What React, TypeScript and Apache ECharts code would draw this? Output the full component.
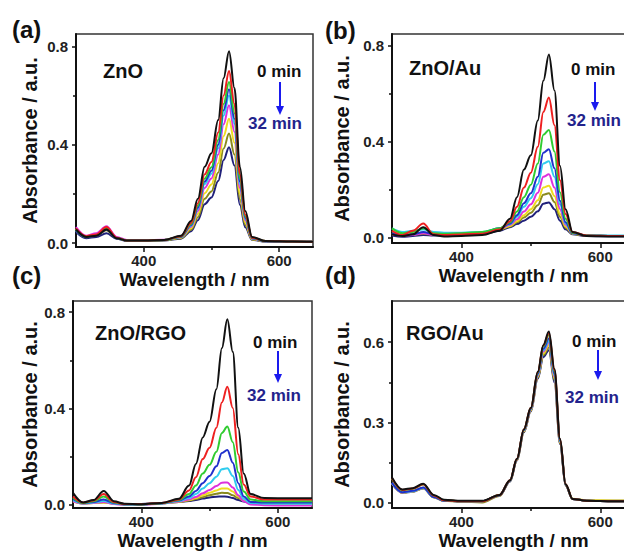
import React, { useEffect, useRef } from "react";
import * as echarts from "echarts";

// ---------- data ----------
const WAVELENGTH_NM = [300, 315, 330, 345, 360, 375, 400, 430, 455, 470, 480, 490, 500, 510, 518, 526, 534, 542, 550, 560, 580, 620, 650];
const TIME_MIN = [0, 4, 8, 12, 16, 20, 24, 28, 32];

// (a) ZnO, one row per irradiation time (0 → 32 min)
const ZNO_ABS = [
  [0.055, 0.025, 0.030, 0.055, 0.020, 0.010, 0.010, 0.012, 0.030, 0.090, 0.180, 0.310, 0.365, 0.500, 0.670, 0.780, 0.630, 0.310, 0.130, 0.025, 0.008, 0.006, 0.005],
  [0.060, 0.028, 0.035, 0.065, 0.022, 0.010, 0.010, 0.012, 0.028, 0.082, 0.162, 0.280, 0.330, 0.450, 0.600, 0.700, 0.565, 0.280, 0.115, 0.022, 0.008, 0.006, 0.005],
  [0.055, 0.026, 0.033, 0.060, 0.021, 0.010, 0.010, 0.012, 0.027, 0.077, 0.152, 0.262, 0.308, 0.420, 0.565, 0.655, 0.528, 0.262, 0.108, 0.021, 0.008, 0.006, 0.005],
  [0.050, 0.024, 0.030, 0.055, 0.020, 0.010, 0.010, 0.012, 0.026, 0.073, 0.145, 0.250, 0.294, 0.400, 0.540, 0.625, 0.505, 0.250, 0.103, 0.020, 0.007, 0.006, 0.005],
  [0.052, 0.025, 0.032, 0.058, 0.021, 0.010, 0.010, 0.012, 0.025, 0.070, 0.140, 0.240, 0.282, 0.385, 0.518, 0.600, 0.485, 0.240, 0.099, 0.019, 0.007, 0.006, 0.005],
  [0.065, 0.030, 0.040, 0.068, 0.025, 0.012, 0.012, 0.013, 0.024, 0.066, 0.130, 0.224, 0.263, 0.360, 0.483, 0.560, 0.452, 0.224, 0.092, 0.018, 0.007, 0.006, 0.005],
  [0.058, 0.027, 0.036, 0.062, 0.023, 0.011, 0.011, 0.012, 0.022, 0.060, 0.118, 0.203, 0.238, 0.325, 0.435, 0.505, 0.408, 0.202, 0.083, 0.016, 0.007, 0.006, 0.005],
  [0.050, 0.024, 0.030, 0.052, 0.020, 0.010, 0.010, 0.011, 0.020, 0.054, 0.105, 0.180, 0.210, 0.287, 0.384, 0.445, 0.360, 0.178, 0.073, 0.015, 0.006, 0.005, 0.005],
  [0.045, 0.020, 0.025, 0.040, 0.018, 0.008, 0.008, 0.010, 0.018, 0.048, 0.093, 0.158, 0.185, 0.252, 0.338, 0.390, 0.315, 0.156, 0.064, 0.013, 0.006, 0.005, 0.005],
];

// (b) ZnO/Au
const ZNO_AU_ABS = [
  [0.015, 0.008, 0.015, 0.045, 0.012, 0.006, 0.008, 0.012, 0.030, 0.080, 0.170, 0.285, 0.345, 0.490, 0.655, 0.765, 0.615, 0.300, 0.120, 0.025, 0.008, 0.006, 0.005],
  [0.030, 0.012, 0.030, 0.060, 0.015, 0.012, 0.014, 0.018, 0.035, 0.070, 0.130, 0.210, 0.272, 0.380, 0.525, 0.585, 0.470, 0.240, 0.100, 0.025, 0.010, 0.008, 0.008],
  [0.040, 0.020, 0.025, 0.040, 0.020, 0.018, 0.020, 0.025, 0.040, 0.065, 0.110, 0.170, 0.222, 0.310, 0.430, 0.450, 0.360, 0.190, 0.080, 0.022, 0.010, 0.008, 0.008],
  [0.020, 0.012, 0.015, 0.025, 0.015, 0.015, 0.018, 0.022, 0.040, 0.060, 0.095, 0.145, 0.186, 0.255, 0.355, 0.370, 0.290, 0.155, 0.065, 0.020, 0.010, 0.008, 0.008],
  [0.040, 0.025, 0.030, 0.035, 0.025, 0.022, 0.022, 0.025, 0.040, 0.058, 0.088, 0.130, 0.166, 0.224, 0.310, 0.320, 0.255, 0.140, 0.060, 0.020, 0.012, 0.010, 0.010],
  [0.015, 0.010, 0.012, 0.020, 0.012, 0.012, 0.015, 0.020, 0.038, 0.055, 0.078, 0.110, 0.140, 0.188, 0.255, 0.265, 0.210, 0.120, 0.055, 0.020, 0.010, 0.008, 0.008],
  [0.020, 0.012, 0.015, 0.022, 0.015, 0.014, 0.016, 0.020, 0.036, 0.050, 0.070, 0.095, 0.120, 0.157, 0.210, 0.218, 0.175, 0.100, 0.048, 0.018, 0.010, 0.008, 0.008],
  [0.015, 0.010, 0.012, 0.018, 0.012, 0.012, 0.014, 0.018, 0.035, 0.048, 0.065, 0.085, 0.105, 0.136, 0.180, 0.186, 0.150, 0.088, 0.043, 0.017, 0.009, 0.008, 0.008],
  [0.010, 0.005, 0.008, 0.012, 0.010, 0.010, 0.012, 0.016, 0.030, 0.045, 0.058, 0.072, 0.088, 0.111, 0.143, 0.148, 0.120, 0.072, 0.036, 0.015, 0.008, 0.007, 0.007],
];

// (c) ZnO/RGO
const ZNO_RGO_ABS = [
  [0.050, 0.010, 0.020, 0.058, 0.015, 0.005, 0.003, 0.008, 0.025, 0.080, 0.170, 0.280, 0.345, 0.480, 0.650, 0.770, 0.635, 0.320, 0.130, 0.045, 0.028, 0.027, 0.027],
  [0.035, 0.010, 0.018, 0.045, 0.012, 0.004, 0.003, 0.008, 0.022, 0.060, 0.115, 0.190, 0.237, 0.320, 0.425, 0.490, 0.402, 0.210, 0.085, 0.035, 0.022, 0.022, 0.022],
  [0.030, 0.008, 0.015, 0.035, 0.010, 0.003, 0.002, 0.007, 0.020, 0.045, 0.080, 0.130, 0.166, 0.220, 0.298, 0.325, 0.260, 0.135, 0.055, 0.022, 0.015, 0.015, 0.015],
  [0.025, 0.008, 0.012, 0.022, 0.008, 0.003, 0.002, 0.007, 0.018, 0.035, 0.058, 0.090, 0.120, 0.160, 0.215, 0.228, 0.175, 0.090, 0.035, 0.012, 0.010, 0.010, 0.010],
  [0.020, 0.006, 0.010, 0.016, 0.006, 0.002, 0.002, 0.006, 0.016, 0.028, 0.045, 0.068, 0.090, 0.117, 0.148, 0.152, 0.120, 0.062, 0.025, 0.008, 0.005, 0.005, 0.005],
  [0.015, 0.005, 0.008, 0.012, 0.004, 0.000, 0.000, 0.005, 0.014, 0.022, 0.033, 0.048, 0.062, 0.078, 0.092, 0.093, 0.072, 0.040, 0.015, 0.002, -0.002, -0.003, -0.003],
  [0.015, 0.005, 0.008, 0.010, 0.005, 0.002, 0.002, 0.006, 0.013, 0.020, 0.028, 0.040, 0.050, 0.060, 0.068, 0.068, 0.055, 0.035, 0.018, 0.008, 0.005, 0.005, 0.005],
  [0.015, 0.006, 0.008, 0.010, 0.006, 0.003, 0.003, 0.007, 0.012, 0.018, 0.024, 0.032, 0.040, 0.046, 0.050, 0.049, 0.040, 0.028, 0.017, 0.012, 0.010, 0.010, 0.010],
  [0.020, 0.008, 0.010, 0.012, 0.008, 0.004, 0.004, 0.008, 0.012, 0.016, 0.020, 0.026, 0.031, 0.034, 0.035, 0.034, 0.028, 0.020, 0.014, 0.010, 0.008, 0.008, 0.008],
];

// (d) RGO/Au
const RGO_AU_ABS = [
  [0.095, 0.050, 0.055, 0.072, 0.030, 0.012, 0.008, 0.008, 0.030, 0.085, 0.165, 0.275, 0.355, 0.490, 0.590, 0.640, 0.500, 0.240, 0.070, 0.015, 0.008, 0.006, 0.006],
  [0.092, 0.048, 0.054, 0.070, 0.028, 0.010, 0.006, 0.006, 0.030, 0.085, 0.165, 0.275, 0.355, 0.488, 0.588, 0.634, 0.496, 0.238, 0.070, 0.015, 0.008, 0.006, 0.006],
  [0.090, 0.047, 0.053, 0.069, 0.028, 0.010, 0.006, 0.006, 0.030, 0.084, 0.164, 0.274, 0.354, 0.486, 0.584, 0.627, 0.490, 0.236, 0.069, 0.015, 0.008, 0.006, 0.006],
  [0.075, 0.040, 0.045, 0.058, 0.022, 0.008, 0.006, 0.006, 0.029, 0.083, 0.163, 0.272, 0.352, 0.482, 0.576, 0.614, 0.482, 0.233, 0.068, 0.015, 0.008, 0.006, 0.006],
  [0.074, 0.040, 0.044, 0.057, 0.022, 0.008, 0.006, 0.006, 0.029, 0.083, 0.162, 0.271, 0.350, 0.478, 0.570, 0.605, 0.476, 0.230, 0.068, 0.015, 0.008, 0.006, 0.006],
  [0.074, 0.039, 0.044, 0.057, 0.022, 0.008, 0.006, 0.006, 0.029, 0.082, 0.161, 0.270, 0.348, 0.475, 0.565, 0.599, 0.471, 0.228, 0.067, 0.015, 0.008, 0.006, 0.006],
  [0.073, 0.039, 0.043, 0.056, 0.021, 0.008, 0.006, 0.006, 0.029, 0.082, 0.160, 0.268, 0.346, 0.472, 0.558, 0.590, 0.465, 0.226, 0.067, 0.016, 0.010, 0.009, 0.009],
  [0.073, 0.038, 0.043, 0.055, 0.021, 0.008, 0.004, 0.002, 0.026, 0.081, 0.159, 0.266, 0.344, 0.468, 0.552, 0.580, 0.458, 0.223, 0.066, 0.015, 0.008, 0.006, 0.006],
  [0.072, 0.038, 0.042, 0.055, 0.021, 0.008, 0.006, 0.006, 0.028, 0.080, 0.158, 0.264, 0.342, 0.464, 0.545, 0.570, 0.450, 0.220, 0.065, 0.015, 0.009, 0.008, 0.008],
];

const X_TICKS = [400, 600];
const X_MINOR_TICKS = [500];
const Y_TICKS_ABC = [0, 0.4, 0.8];
const Y_MINOR_ABC = [0.2, 0.6];
const Y_TICKS_D = [0, 0.3, 0.6];
const Y_MINOR_D = [0.15, 0.45];
const PANEL_LABELS = ["(a)", "(b)", "(c)", "(d)"];
const SAMPLE_NAMES = ["ZnO", "ZnO/Au", "ZnO/RGO", "RGO/Au"];
const START_LABEL = "0 min";
const END_LABEL = "32 min";
const X_NAME = "Wavelength / nm";
const Y_NAME = "Absorbance / a.u.";

// ---------- styles / layout ----------
const CURVE_COLORS = ["#111111", "#ee2020", "#30cc30", "#2030cc", "#30ccee", "#dd30dd", "#eedc20", "#8a8a1e", "#20207a"];
const FONT = '"Liberation Sans", Arial, Helvetica, sans-serif';

const PANELS = [
  { data: ZNO_ABS, yTicks: Y_TICKS_ABC, yMinor: Y_MINOR_ABC, grid: { left: 76, top: 34, width: 237, height: 213 }, yMin: -0.016, yMax: 0.85, yGap: 36,
    label: [12, 29], name: [103, 71], t0: [257, 71], arrow: [280, 82, 115], t32: [248, 123] },
  { data: ZNO_AU_ABS, yTicks: Y_TICKS_ABC, yMinor: Y_MINOR_ABC, grid: { left: 392, top: 34, width: 243, height: 209 }, yMin: -0.021, yMax: 0.85, yGap: 40,
    label: [325, 30], name: [409, 68], t0: [571, 69], arrow: [595, 82, 111], t32: [567, 120] },
  { data: ZNO_RGO_ABS, yTicks: Y_TICKS_ABC, yMinor: Y_MINOR_ABC, grid: { left: 73, top: 301, width: 239, height: 207 }, yMin: -0.013, yMax: 0.846, yGap: 33,
    label: [12, 275], name: [95, 333], t0: [253, 342], arrow: [278, 351, 383], t32: [247, 395] },
  { data: RGO_AU_ABS, yTicks: Y_TICKS_D, yMinor: Y_MINOR_D, grid: { left: 392, top: 301, width: 243, height: 207 }, yMin: -0.019, yMax: 0.754, yGap: 40,
    label: [325, 275], name: [406, 333], t0: [572, 341], arrow: [598, 350, 380], t32: [565, 397] },
];

function buildOption() {
  const grid: any[] = [];
  const xAxis: any[] = [];
  const yAxis: any[] = [];
  const series: any[] = [];
  const graphic: any[] = [];

  PANELS.forEach((p, pi) => {
    grid.push({ ...p.grid, show: true, borderColor: "#333", borderWidth: 1.5, backgroundColor: "transparent" });

    xAxis.push({
      gridIndex: pi, type: "value", min: 300, max: 650, position: "bottom",
      name: X_NAME, nameLocation: "middle", nameGap: 23,
      nameTextStyle: { fontSize: 19, fontWeight: "bold", color: "#111", fontFamily: FONT },
      axisLine: { show: true, onZero: false, lineStyle: { color: "#111", width: 2 } },
      axisTick: { show: true, inside: false, length: 5, customValues: X_TICKS, lineStyle: { color: "#111", width: 1.5 } },
      axisLabel: { show: true, customValues: X_TICKS, margin: 6, fontSize: 15, fontWeight: "bold", color: "#222", fontFamily: FONT },
      splitLine: { show: false },
    });
    xAxis.push({
      gridIndex: pi, type: "value", min: 300, max: 650, position: "bottom",
      axisLine: { show: false, onZero: false },
      axisTick: { show: true, inside: false, length: 3, customValues: X_MINOR_TICKS, lineStyle: { color: "#111", width: 1.5 } },
      axisLabel: { show: false }, splitLine: { show: false },
    });

    yAxis.push({
      gridIndex: pi, type: "value", min: p.yMin, max: p.yMax, position: "left",
      name: Y_NAME, nameLocation: "middle", nameGap: p.yGap,
      nameTextStyle: { fontSize: 20, fontWeight: "bold", color: "#111", fontFamily: FONT },
      axisLine: { show: true, onZero: false, lineStyle: { color: "#111", width: 2 } },
      axisTick: { show: true, inside: false, length: 4, customValues: p.yTicks, lineStyle: { color: "#111", width: 1.5 } },
      axisLabel: { show: true, customValues: p.yTicks, margin: 8, fontSize: 15, fontWeight: "bold", color: "#222", fontFamily: FONT,
        formatter: (v: number) => v.toFixed(1) },
      splitLine: { show: false },
    });
    yAxis.push({
      gridIndex: pi, type: "value", min: p.yMin, max: p.yMax, position: "left",
      axisLine: { show: false, onZero: false },
      axisTick: { show: true, inside: false, length: 3, customValues: p.yMinor, lineStyle: { color: "#111", width: 1.5 } },
      axisLabel: { show: false }, splitLine: { show: false },
    });

    // draw 32 min first so that the 0 min curve sits on top
    for (let i = p.data.length - 1; i >= 0; i--) {
      series.push({
        type: "line",
        name: `${SAMPLE_NAMES[pi]} ${TIME_MIN[i]} min`,
        xAxisIndex: pi * 2, yAxisIndex: pi * 2,
        data: WAVELENGTH_NM.map((w, k) => [w, p.data[i][k]]),
        showSymbol: false, symbol: "none", smooth: 0.35, smoothMonotone: "x",
        lineStyle: { width: 2, color: CURVE_COLORS[i] },
        itemStyle: { color: CURVE_COLORS[i] },
        silent: true, clip: true,
      });
    }

    graphic.push(
      { type: "text", x: p.label[0], y: p.label[1], style: { text: PANEL_LABELS[pi], font: `bold 24px ${FONT}`, fill: "#111", align: "left", verticalAlign: "middle" } },
      { type: "text", x: p.name[0], y: p.name[1], style: { text: SAMPLE_NAMES[pi], font: `bold 20px ${FONT}`, fill: "#111", align: "left", verticalAlign: "middle" } },
      { type: "text", x: p.t0[0], y: p.t0[1], style: { text: START_LABEL, font: `bold 17px ${FONT}`, fill: "#111", align: "left", verticalAlign: "middle" } },
      { type: "text", x: p.t32[0], y: p.t32[1], style: { text: END_LABEL, font: `bold 17px ${FONT}`, fill: "#23238c", align: "left", verticalAlign: "middle" } },
      { type: "line", shape: { x1: p.arrow[0], y1: p.arrow[1], x2: p.arrow[0], y2: p.arrow[2] - 7 }, style: { stroke: "#1a1aee", lineWidth: 2 } },
      { type: "polygon", shape: { points: [[p.arrow[0] - 4, p.arrow[2] - 9], [p.arrow[0] + 4, p.arrow[2] - 9], [p.arrow[0], p.arrow[2]]] }, style: { fill: "#1a1aee" } },
    );
  });

  return { animation: false, backgroundColor: "#ffffff", grid, xAxis, yAxis, series, graphic };
}

export default function App() {
  const ref = useRef<HTMLDivElement>(null);
  useEffect(() => {
    if (!ref.current) return;
    const chart = echarts.init(ref.current, undefined, { renderer: "svg" });
    chart.setOption(buildOption() as any);
    return () => chart.dispose();
  }, []);
  return (
    <div style={{ position: "fixed", left: 0, top: 0, width: 624, height: 552, overflow: "hidden", background: "#fff" }}>
      <div ref={ref} style={{ width: 660, height: 552 }} />
    </div>
  );
}
